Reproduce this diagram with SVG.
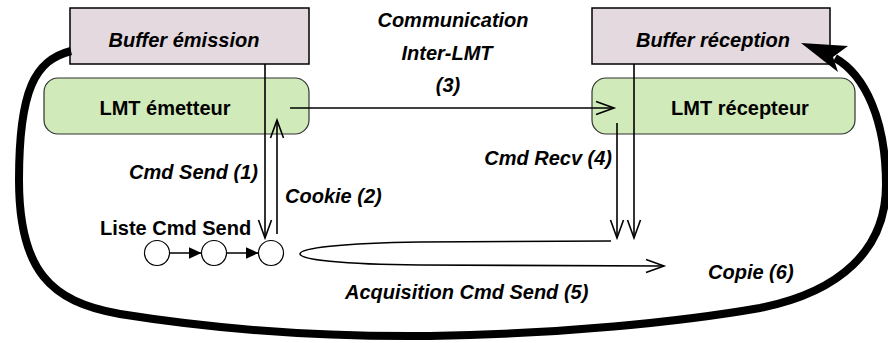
<svg xmlns="http://www.w3.org/2000/svg" width="888" height="343" viewBox="0 0 888 343">
<defs>
<style>
.buf{fill:#e3d9de;stroke:#000;stroke-width:1.5}
.lmt{fill:#d0eab9;stroke:#333;stroke-width:1.2}
.t{font-family:"Liberation Sans",Arial,sans-serif;font-size:20px;font-weight:bold;fill:#000}
.i{font-style:italic}
.ln{fill:none;stroke:#000;stroke-width:1.6}
.c{fill:#fff;stroke:#000;stroke-width:1.2}
</style>
<marker id="open" markerUnits="userSpaceOnUse" markerWidth="22" markerHeight="16" refX="19" refY="8" orient="auto">
<path d="M1,1.5 L19,8 L1,14.5" fill="none" stroke="#000" stroke-width="1.6"/>
</marker>
<marker id="tri" markerUnits="userSpaceOnUse" markerWidth="14" markerHeight="12" refX="13" refY="6" orient="auto">
<path d="M0,0 L13,6 L0,12 Z" fill="#000"/>
</marker>
</defs>
<g id="buffer-emission">
<rect class="buf" x="70" y="8" width="239" height="56"/>
<text class="t i" x="184" y="47" text-anchor="middle">Buffer émission</text>
</g>
<g id="lmt-emetteur">
<rect class="lmt" x="44" y="78" width="265" height="56" rx="14"/>
<text class="t" x="165" y="115" text-anchor="middle">LMT émetteur</text>
</g>
<g id="buffer-reception">
<rect class="buf" x="592" y="8" width="238" height="56"/>
<text class="t i" x="713" y="47" text-anchor="middle">Buffer réception</text>
</g>
<g id="lmt-recepteur">
<rect class="lmt" x="592" y="78" width="263" height="56" rx="14"/>
<text class="t" x="740" y="115" text-anchor="middle">LMT récepteur</text>
</g>
<g id="liste-cmd-send">
<text class="t" x="100" y="235">Liste Cmd Send</text>
<circle class="c" cx="157" cy="253" r="12.5"/>
<circle class="c" cx="214" cy="253" r="12.5"/>
<circle class="c" cx="271" cy="253" r="12.5"/>
</g>
<g id="connectors">
<path class="ln" d="M265,64 V238" marker-end="url(#open)"/>
<path class="ln" d="M277,234 V120" marker-end="url(#open)"/>
<path class="ln" d="M290,108 H614" marker-end="url(#open)"/>
<path class="ln" d="M634,64 V238" marker-end="url(#open)"/>
<path class="ln" d="M617,123 V238" marker-end="url(#open)"/>
<path class="ln" d="M169.5,253 H201.5" marker-end="url(#tri)"/>
<path class="ln" d="M226.5,253 H258.5" marker-end="url(#tri)"/>
<path class="ln" d="M611,241 L420,242 C260,244 260,264 420,265 L664,266" marker-end="url(#open)"/>
<path d="M71,51 C35,60 19,90 19,180 C19,270 50,302 120,314 C220,330 330,337 430,336 C560,334 680,322 760,308 C840,292 886,250 886,185 C886,120 865,75 835,58" fill="none" stroke="#000" stroke-width="8"/>
<path d="M801,43 L848,46 L833,57 L838,72 Z" fill="#000"/>
</g>
<g id="labels">
<text class="t i" x="453" y="27" text-anchor="middle">Communication</text>
<text class="t i" x="447" y="60" text-anchor="middle">Inter-LMT</text>
<text class="t i" x="448" y="92" text-anchor="middle">(3)</text>
<text class="t i" x="258" y="179" text-anchor="end">Cmd Send (1)</text>
<text class="t i" x="285" y="203">Cookie (2)</text>
<text class="t i" x="612" y="165" text-anchor="end">Cmd Recv (4)</text>
<text class="t i" x="345" y="299">Acquisition Cmd Send (5)</text>
<text class="t i" x="708" y="279">Copie (6)</text>
</g>
</svg>
